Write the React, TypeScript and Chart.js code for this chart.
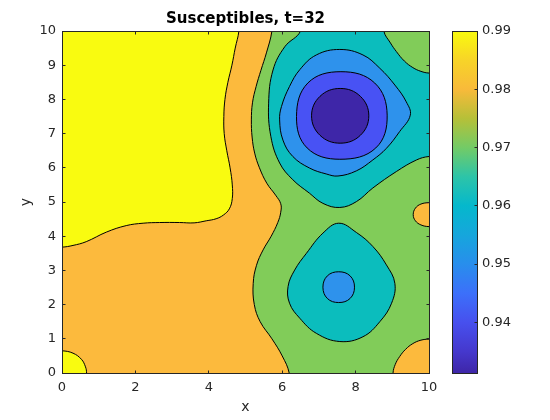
import React, { useEffect, useRef } from "react";
import { Chart, registerables } from "chart.js";

Chart.register(...registerables);

// ---------- axis ticks ----------
const xTicks = [0, 2, 4, 6, 8, 10];
const yTicks = [0, 1, 2, 3, 4, 5, 6, 7, 8, 9, 10];
const cbTicks = [0.94, 0.95, 0.96, 0.97, 0.98, 0.99];
const cbMin = 0.9313;
const cbMax = 0.99;

// ---------- colorbar (parula) stops ----------
const cbStopValues = [0.9313, 0.935, 0.94, 0.945, 0.95, 0.955, 0.96, 0.965, 0.97, 0.975, 0.98, 0.985, 0.99];
const cbStopColors = [
  "rgb(62,38,168)",
  "rgb(69,56,205)",
  "rgb(71,80,238)",
  "rgb(60,112,250)",
  "rgb(40,142,236)",
  "rgb(22,166,220)",
  "rgb(5,184,204)",
  "rgb(45,196,168)",
  "rgb(115,203,102)",
  "rgb(182,192,56)",
  "rgb(248,186,58)",
  "rgb(247,212,40)",
  "rgb(249,251,14)",
];

// ---------- contour level colours ----------
const colorYellow = "rgb(249,251,16)";
const colorOrange = "rgb(252,186,61)";
const colorGreen = "rgb(129,204,89)";
const colorCyan = "rgb(11,189,189)";
const colorLightBlue = "rgb(46,146,236)";
const colorBlue = "rgb(72,82,244)";
const colorDarkBlue = "rgb(62,38,168)";

// ---------- contour regions, [x, y] in data units ----------
const orangeBase: [number, number][] = [[-1, -1], [11, -1], [11, 11], [-1, 11]];

const yellowTopLeft: [number, number][] = [
  [-0.6, 10.6], [4.84, 10.6], [4.82, 10.0], [4.72, 9.5], [4.63, 9.0], [4.52, 8.5],
  [4.44, 8.0], [4.41, 7.5], [4.42, 7.0], [4.49, 6.5], [4.58, 6.0], [4.64, 5.5],
  [4.64, 5.1], [4.56, 4.8], [4.40, 4.62], [4.20, 4.51], [3.93, 4.45], [3.60, 4.39],
  [3.20, 4.40], [2.66, 4.40], [2.21, 4.38], [1.75, 4.31], [1.21, 4.12], [0.66, 3.84],
  [0.30, 3.73], [0.0, 3.68], [-0.6, 3.67],
];

const yellowCorner: [number, number][] = [
  [0.68, -0.6], [-0.6, -0.6], [-0.6, 0.66], [0.0, 0.65], [0.30, 0.58], [0.53, 0.40],
  [0.64, 0.18], [0.67, 0.0],
];

const greenMain: [number, number][] = [
  [5.74, 10.6], [5.72, 10.0], [5.57, 9.36], [5.42, 8.85], [5.29, 8.38], [5.19, 7.9],
  [5.16, 7.4], [5.18, 6.9], [5.25, 6.43], [5.38, 6.0], [5.58, 5.55], [5.82, 5.2],
  [5.96, 4.95], [5.96, 4.7], [5.88, 4.4], [5.70, 4.0], [5.48, 3.6], [5.30, 3.15],
  [5.21, 2.62], [5.24, 2.0], [5.40, 1.5], [5.72, 1.0], [6.0, 0.5], [6.19, 0.0],
  [6.21, -0.6], [10.6, -0.6], [10.6, 10.6],
];

const orangeRightBump: [number, number][] = [
  [10.6, 4.27], [10.0, 4.28], [9.78, 4.33], [9.63, 4.45], [9.57, 4.63], [9.63, 4.82],
  [9.78, 4.94], [10.0, 4.98], [10.6, 4.99],
];

const orangeBottomRight: [number, number][] = [
  [10.6, -0.6], [9.02, -0.6], [9.02, 0.0], [9.08, 0.25], [9.2, 0.48], [9.36, 0.69],
  [9.56, 0.86], [9.78, 0.96], [10.0, 0.99], [10.6, 1.0],
];

const cyanUpper: [number, number][] = [
  [6.52, 10.6], [6.50, 10.0], [6.07, 9.54], [5.75, 8.86], [5.63, 7.89], [5.69, 6.92],
  [5.93, 6.14], [6.29, 5.65], [6.74, 5.26], [7.11, 4.96], [7.57, 4.84], [8.02, 5.01],
  [8.47, 5.41], [9.11, 5.89], [9.66, 6.23], [10.0, 6.33], [10.6, 6.34], [10.6, 10.6],
];

const greenTopRight: [number, number][] = [
  [8.78, 10.6], [8.77, 10.0], [8.95, 9.65], [9.11, 9.40], [9.33, 9.12], [9.56, 8.93],
  [9.78, 8.82], [10.0, 8.77], [10.6, 8.76], [10.6, 10.6],
];

const cyanLower: [number, number][] = [
  [7.54, 4.38], [8.02, 4.11], [8.47, 3.70], [8.84, 3.16], [9.07, 2.62], [8.98, 2.04],
  [8.66, 1.50], [8.20, 1.06], [7.57, 0.92], [6.93, 1.16], [6.48, 1.60], [6.20, 2.04],
  [6.16, 2.53], [6.34, 3.01], [6.66, 3.50], [7.11, 4.09],
];

const lightBlueUpper: [number, number][] = [
  [7.57, 9.46], [8.20, 9.30], [8.66, 8.91], [9.07, 8.42], [9.38, 7.93], [9.49, 7.54],
  [9.20, 7.06], [8.84, 6.57], [8.47, 6.23], [8.02, 5.91], [7.52, 5.76], [7.20, 5.82],
  [6.75, 5.99], [6.29, 6.33], [6.02, 6.81], [5.93, 7.40], [5.98, 7.79], [6.20, 8.38],
  [6.48, 8.87], [6.93, 9.30],
];

const lightBlueLower: [number, number][] = [
  [7.54, 2.96], [7.85, 2.84], [7.97, 2.51], [7.85, 2.18], [7.54, 2.06], [7.23, 2.18],
  [7.11, 2.51], [7.23, 2.84],
];

const blueCore: [number, number][] = [
  [7.60, 8.81], [8.52, 8.48], [8.86, 7.54], [8.55, 6.58], [7.57, 6.25], [6.68, 6.58],
  [6.39, 7.50], [6.70, 8.48],
];

const darkBlueCore: [number, number][] = [
  [7.58, 8.32], [8.13, 8.09], [8.36, 7.52], [8.13, 6.95], [7.58, 6.72], [7.03, 6.95],
  [6.80, 7.52], [7.03, 8.09],
];

// ---------- styling ----------
const FONT = "DejaVu Sans";
const AXIS_COLOR = "#262626";
const TICK_LEN = 3;

const layers: { pts: [number, number][]; color: string; border: number; tension: number }[] = [
  { pts: orangeBase, color: colorOrange, border: 0, tension: 0 },
  { pts: yellowTopLeft, color: colorYellow, border: 1, tension: 0.4 },
  { pts: yellowCorner, color: colorYellow, border: 1, tension: 0.4 },
  { pts: greenMain, color: colorGreen, border: 1, tension: 0.4 },
  { pts: orangeRightBump, color: colorOrange, border: 1, tension: 0.4 },
  { pts: orangeBottomRight, color: colorOrange, border: 1, tension: 0.4 },
  { pts: cyanUpper, color: colorCyan, border: 1, tension: 0.4 },
  { pts: greenTopRight, color: colorGreen, border: 1, tension: 0.4 },
  { pts: cyanLower, color: colorCyan, border: 1, tension: 0.4 },
  { pts: lightBlueUpper, color: colorLightBlue, border: 1, tension: 0.4 },
  { pts: lightBlueLower, color: colorLightBlue, border: 1, tension: 0.4 },
  { pts: blueCore, color: colorBlue, border: 1, tension: 0.4 },
  { pts: darkBlueCore, color: colorDarkBlue, border: 1, tension: 0.4 },
];

// every contour is a closed shape: draw all its points and close it smoothly
const closeLoopsPlugin = {
  id: "closeLoops",
  beforeDatasetsUpdate(chart: any) {
    chart.data.datasets.forEach((_ds: any, i: number) => {
      const meta = chart.getDatasetMeta(i);
      if (meta) meta._sorted = false;
    });
  },
  afterDatasetsUpdate(chart: any) {
    chart.data.datasets.forEach((_ds: any, i: number) => {
      const meta = chart.getDatasetMeta(i);
      const line = meta && meta.dataset;
      if (!line) return;
      line._loop = true;
      line._fullLoop = true;
      delete line._segments;
      line._path = undefined;
      line._pointsUpdated = false;
    });
  },
};

const framePlugin = {
  id: "frameTicks",
  afterDraw(chart: any) {
    const { ctx, chartArea: a, scales } = chart;
    const l = Math.round(a.left) + 0.5;
    const r = Math.round(a.right) + 0.5;
    const t = Math.round(a.top) + 0.5;
    const b = Math.round(a.bottom) + 0.5;
    ctx.save();
    ctx.strokeStyle = AXIS_COLOR;
    ctx.lineWidth = 1;
    ctx.beginPath();
    xTicks.forEach((v) => {
      const p = Math.floor(scales.x.getPixelForValue(v)) + 0.5;
      ctx.moveTo(p, b);
      ctx.lineTo(p, b - TICK_LEN);
      ctx.moveTo(p, t);
      ctx.lineTo(p, t + TICK_LEN);
    });
    yTicks.forEach((v) => {
      const p = Math.floor(scales.y.getPixelForValue(v)) + 0.5;
      ctx.moveTo(l, p);
      ctx.lineTo(l + TICK_LEN, p);
      ctx.moveTo(r, p);
      ctx.lineTo(r - TICK_LEN, p);
    });
    ctx.stroke();
    ctx.strokeRect(l, t, r - l, b - t);
    ctx.restore();
  },
};

const cbFramePlugin = {
  id: "cbFrame",
  afterDraw(chart: any) {
    const { ctx, chartArea: a, scales } = chart;
    const l = Math.round(a.left) - 0.5;
    const r = Math.round(a.right) + 0.5;
    const t = Math.round(a.top) + 0.5;
    const b = Math.round(a.bottom) + 0.5;
    ctx.save();
    ctx.strokeStyle = AXIS_COLOR;
    ctx.lineWidth = 1;
    ctx.beginPath();
    cbTicks.forEach((v) => {
      const p = Math.floor(scales.y.getPixelForValue(v)) + 0.5;
      ctx.moveTo(r, p);
      ctx.lineTo(r - TICK_LEN, p);
    });
    ctx.stroke();
    ctx.strokeRect(l, t, r - l, b - t);
    ctx.restore();
  },
};

export default function App() {
  const mainRef = useRef<HTMLCanvasElement>(null);
  const cbRef = useRef<HTMLCanvasElement>(null);

  useEffect(() => {
    const n = layers.length;
    const datasets = layers.map((L, i) => ({
      data: L.pts.map(([x, y]) => ({ x, y })),
      showLine: true,
      fill: "shape",
      backgroundColor: L.color,
      borderColor: "#000000",
      borderWidth: L.border,
      pointRadius: 0,
      pointHoverRadius: 0,
      tension: L.tension,
      capBezierPoints: false,
      clip: 0,
      order: n - i,
    }));

    const main = new Chart(mainRef.current as HTMLCanvasElement, {
      type: "scatter",
      data: { datasets } as any,
      options: {
        animation: false,
        responsive: false,
        events: [],
        layout: { padding: { left: 0, right: 121, top: 0, bottom: 0 } },
        elements: { line: { capBezierPoints: false } },
        plugins: {
          legend: { display: false },
          tooltip: { enabled: false },
          title: {
            display: true,
            text: "Susceptibles, t=32",
            fullSize: false,
            color: "#000000",
            font: { family: FONT, size: 15, weight: "bold", lineHeight: 1.2 },
            padding: { top: 10.5, bottom: 2.5 },
          },
        },
        scales: {
          x: {
            type: "linear",
            min: 0,
            max: 10,
            afterFit: (s: any) => {
              s.height = 47;
            },
            afterBuildTicks: (s: any) => {
              s.ticks = xTicks.map((v) => ({ value: v }));
            },
            grid: { display: false, drawTicks: false },
            border: { display: false },
            ticks: {
              color: AXIS_COLOR,
              font: { family: FONT, size: 13 },
              padding: 7,
              maxRotation: 0,
              autoSkip: false,
            },
            title: {
              display: true,
              text: "x",
              color: AXIS_COLOR,
              font: { family: FONT, size: 14, lineHeight: 1.2 },
              padding: { top: 0, bottom: 4.6 },
            },
          },
          y: {
            type: "linear",
            min: 0,
            max: 10,
            afterFit: (s: any) => {
              s.width = 62;
            },
            afterBuildTicks: (s: any) => {
              s.ticks = yTicks.map((v) => ({ value: v }));
            },
            grid: { display: false, drawTicks: false },
            border: { display: false },
            ticks: {
              color: AXIS_COLOR,
              font: { family: FONT, size: 13 },
              padding: 6,
              autoSkip: false,
            },
            title: {
              display: true,
              text: "y",
              color: AXIS_COLOR,
              font: { family: FONT, size: 14, lineHeight: 1.2 },
              padding: { top: 17.8, bottom: 0 },
            },
          },
        },
      } as any,
      plugins: [closeLoopsPlugin, framePlugin],
    });

    const cb = new Chart(cbRef.current as HTMLCanvasElement, {
      type: "bar",
      data: {
        labels: [""],
        datasets: [
          {
            data: [[cbMin, cbMax]],
            backgroundColor: (c: any) => {
              const chart = c.chart;
              if (!chart.chartArea) return cbStopColors[0];
              const ys = chart.scales.y;
              const y0 = ys.getPixelForValue(cbMin);
              const y1 = ys.getPixelForValue(cbMax);
              const g = chart.ctx.createLinearGradient(0, y0, 0, y1);
              cbStopValues.forEach((v, i) => {
                g.addColorStop((v - cbMin) / (cbMax - cbMin), cbStopColors[i]);
              });
              return g;
            },
            borderWidth: 0,
            barPercentage: 1,
            categoryPercentage: 1,
          },
        ],
      } as any,
      options: {
        animation: false,
        responsive: false,
        events: [],
        layout: { padding: { left: 23, right: 0, top: 31, bottom: 47 } },
        plugins: { legend: { display: false }, tooltip: { enabled: false } },
        scales: {
          x: { display: false },
          y: {
            position: "right",
            min: cbMin,
            max: cbMax,
            afterFit: (s: any) => {
              s.width = 73;
            },
            afterBuildTicks: (s: any) => {
              s.ticks = cbTicks.map((v) => ({ value: v }));
            },
            grid: { display: false, drawTicks: false },
            border: { display: false },
            ticks: {
              color: AXIS_COLOR,
              font: { family: FONT, size: 13 },
              padding: 5,
              autoSkip: false,
              callback: (v: any) => Number(v).toFixed(2),
            },
          },
        },
      } as any,
      plugins: [cbFramePlugin],
    });

    return () => {
      main.destroy();
      cb.destroy();
    };
  }, []);

  return (
    <div style={{ position: "fixed", left: 0, top: 0, width: 550, height: 420, background: "#ffffff" }}>
      <canvas
        ref={mainRef}
        width={550}
        height={420}
        style={{ position: "absolute", left: 0, top: 0, width: 550, height: 420, display: "block" }}
      />
      <canvas
        ref={cbRef}
        width={120}
        height={420}
        style={{ position: "absolute", left: 430, top: 0, width: 120, height: 420, display: "block" }}
      />
    </div>
  );
}
